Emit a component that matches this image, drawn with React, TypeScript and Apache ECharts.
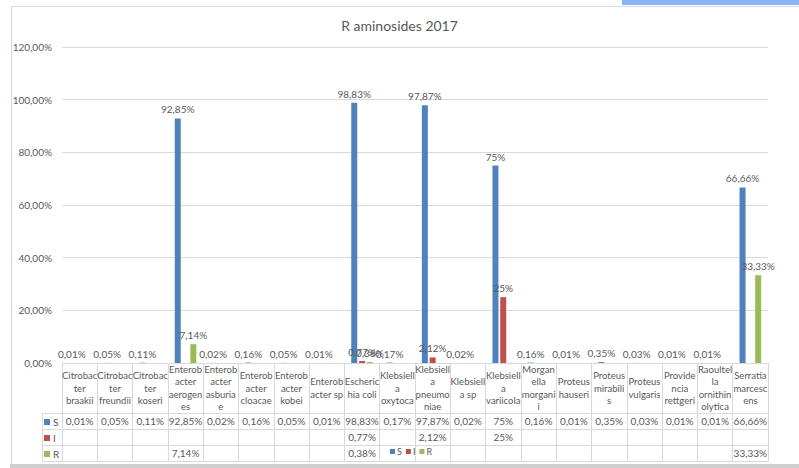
import React, { useEffect, useRef } from "react";
import * as echarts from "echarts";

const headerLabels = [
  "Citrobac\nter\nbraakii",
  "Citrobac\nter\nfreundii",
  "Citrobac\nter\nkoseri",
  "Enterob\nacter\naerogen\nes",
  "Enterob\nacter\nasburia\ne",
  "Enterob\nacter\ncloacae",
  "Enterob\nacter\nkobei",
  "Enterob\nacter sp",
  "Escheric\nhia coli",
  "Klebsiell\na\noxytoca",
  "Klebsiell\na\npneumo\nniae",
  "Klebsiell\na sp",
  "Klebsiell\na\nvariicola",
  "Morgan\nella\nmorgani\ni",
  "Proteus\nhauseri",
  "Proteus\nmirabili\ns",
  "Proteus\nvulgaris",
  "Provide\nncia\nrettgeri",
  "Raoultel\nla\nornithin\nolytica",
  "Serratia\nmarcesc\nens",
];

const seriesNames = ["S", "I", "R"];
const valuesS: (number | null)[] = [0.01, 0.05, 0.11, 92.85, 0.02, 0.16, 0.05, 0.01, 98.83, 0.17, 97.87, 0.02, 75, 0.16, 0.01, 0.35, 0.03, 0.01, 0.01, 66.66];
const valuesI: (number | null)[] = [null, null, null, null, null, null, null, null, 0.77, null, 2.12, null, 25, null, null, null, null, null, null, null];
const valuesR: (number | null)[] = [null, null, null, 7.14, null, null, null, null, 0.38, null, null, null, null, null, null, null, null, null, null, 33.33];
const yTicks = { min: 0, max: 120, interval: 20 };
const colors = ["#4F81BD", "#C0504D", "#9BBB59"];

const FONT = "Lato, 'Liberation Sans', sans-serif";
const TXT = "#595959";
const LINE = "#d9d9d9";

const fmt = (v: number | null) => (v == null ? "" : String(v).replace(".", ",") + "%");

export default function App() {
  const ref = useRef<HTMLDivElement>(null);
  useEffect(() => {
    if (!ref.current) return;
    const chart = echarts.init(ref.current, undefined, { renderer: "svg" });
    const gridTop = 47;
    const gridBottomY = 363;
    const rowAxis = (data: string[], offset: number, showLabels: boolean) => ({
      type: "category" as const,
      position: "bottom" as const,
      gridIndex: 0,
      data,
      offset,
      axisLine: { show: true, lineStyle: { color: LINE, width: 1 } },
      axisTick: { show: false },
      axisLabel: {
        show: showLabels,
        interval: 0,
        margin: 8,
        verticalAlign: "middle",
        fontFamily: FONT,
        fontSize: 10,
        color: TXT,
      },
    });
    const allVals = [valuesS, valuesI, valuesR];
    chart.setOption({
      animation: false,
      backgroundColor: "#ffffff",
      title: {
        text: "R aminosides 2017",
        left: "center",
        top: 18,
        padding: 0,
        textStyle: { fontFamily: FONT, fontSize: 14, fontWeight: "normal", color: TXT },
      },
      legend: [
        {
          data: seriesNames,
          left: 390,
          top: 447,
          orient: "horizontal",
          itemWidth: 5,
          itemHeight: 5,
          itemGap: 4,
          icon: "rect",
          padding: 0,
          textStyle: { fontFamily: FONT, fontSize: 9, color: TXT, padding: [0, 0, 0, -3] },
        },
        {
          data: seriesNames,
          left: 44,
          top: 416,
          orient: "vertical",
          itemWidth: 6,
          itemHeight: 6,
          itemGap: 4,
          icon: "rect",
          padding: 0,
          textStyle: { fontFamily: FONT, fontSize: 10, lineHeight: 12, color: TXT, padding: [0, 0, 0, -2] },
        },
      ],
      grid: { left: 62, right: 31, top: gridTop, bottom: 468 - gridBottomY, containLabel: false },
      xAxis: [
        {
          type: "category",
          data: headerLabels,
          position: "bottom",
          axisLine: { show: true, lineStyle: { color: LINE } },
          axisTick: { show: true, interval: 0, length: 98, lineStyle: { color: LINE } },
          axisLabel: {
            interval: 0,
            margin: 25,
            verticalAlign: "middle",
            lineHeight: 12.5,
            fontFamily: FONT,
            fontSize: 9.5,
            color: TXT,
          },
        },
        rowAxis(valuesS.map(fmt), 50, true),
        rowAxis(valuesI.map(fmt), 66, true),
        rowAxis(valuesR.map(fmt), 82, true),
        rowAxis(valuesS.map(() => ""), 98, false),
      ],
      yAxis: {
        type: "value",
        min: yTicks.min,
        max: yTicks.max,
        interval: yTicks.interval,
        axisLine: { show: false },
        axisTick: { show: false },
        splitLine: { lineStyle: { color: LINE } },
        axisLabel: {
          margin: 10,
          fontFamily: FONT,
          fontSize: 10,
          color: TXT,
          formatter: (v: number) => v.toFixed(2).replace(".", ",") + "%",
        },
      },
      series: allVals.map((vals, i) => ({
        name: seriesNames[i],
        type: "bar",
        xAxisIndex: 0,
        data: vals,
        barWidth: 6,
        barGap: "30%",
        itemStyle: { color: colors[i] },
        label: {
          show: true,
          position: "top",
          distance: 4,
          fontFamily: FONT,
          fontSize: 10,
          color: TXT,
          formatter: (p: any) => fmt(p.value),
        },
      })),
      graphic: [
        { type: "rect", shape: { x: 11.5, y: 6.5, width: 800, height: 458 }, style: { fill: "none", stroke: LINE, lineWidth: 1 }, silent: true },
        { type: "rect", shape: { x: 10, y: 464, width: 789, height: 4 }, style: { fill: "#cfcfcf" }, silent: true },
        { type: "rect", shape: { x: 622, y: 0, width: 177, height: 5 }, style: { fill: "#88b4f3" }, silent: true },
        { type: "line", shape: { x1: 42.5, y1: 413.5, x2: 42.5, y2: 461.5 }, style: { stroke: LINE, lineWidth: 1 }, silent: true },
        { type: "line", shape: { x1: 42.5, y1: 413.5, x2: 62, y2: 413.5 }, style: { stroke: LINE, lineWidth: 1 }, silent: true },
        { type: "line", shape: { x1: 42.5, y1: 429.5, x2: 62, y2: 429.5 }, style: { stroke: LINE, lineWidth: 1 }, silent: true },
        { type: "line", shape: { x1: 42.5, y1: 445.5, x2: 62, y2: 445.5 }, style: { stroke: LINE, lineWidth: 1 }, silent: true },
        { type: "line", shape: { x1: 42.5, y1: 461.5, x2: 62, y2: 461.5 }, style: { stroke: LINE, lineWidth: 1 }, silent: true },
      ],
    });
    return () => chart.dispose();
  }, []);
  return (
    <div
      ref={ref}
      style={{ position: "fixed", left: 0, top: 0, width: 799, height: 468 }}
    />
  );
}
